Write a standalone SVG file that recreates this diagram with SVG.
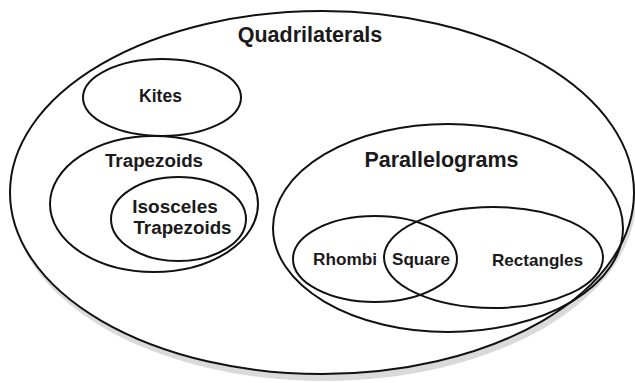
<svg xmlns="http://www.w3.org/2000/svg" width="635" height="383" viewBox="0 0 635 383">
  <style>
    .set { fill: none; stroke: #111; stroke-width: 2; }
    .lbl { font-family: "Liberation Sans", Arial, Helvetica, sans-serif; font-weight: bold; fill: #1a1a1a; text-anchor: middle; }
  </style>
  <rect width="635" height="383" fill="#ffffff"/>
  <g id="quadrilaterals">
    <ellipse cx="324" cy="199" rx="312" ry="182" fill="#dadada"/>
    <ellipse cx="322" cy="192.5" rx="312" ry="181.5" fill="#ffffff" stroke="#111" stroke-width="2"/>
    <text class="lbl" x="310" y="42" font-size="21.5">Quadrilaterals</text>
  </g>
  <g id="kites">
    <ellipse class="set" cx="162" cy="97.5" rx="79" ry="38.5"/>
    <text class="lbl" x="160.5" y="102" font-size="17.5">Kites</text>
  </g>
  <g id="trapezoids">
    <ellipse class="set" cx="154" cy="204" rx="104" ry="68"/>
    <text class="lbl" x="154" y="167" font-size="18.8">Trapezoids</text>
  </g>
  <g id="isosceles-trapezoids">
    <ellipse class="set" cx="178.5" cy="219" rx="67.5" ry="42"/>
    <text class="lbl" x="175" y="213" font-size="19">Isosceles</text>
    <text class="lbl" x="182.5" y="234" font-size="18.8">Trapezoids</text>
  </g>
  <g id="parallelograms">
    <ellipse class="set" cx="448" cy="228" rx="175" ry="104"/>
    <text class="lbl" x="441.5" y="167" font-size="21.5">Parallelograms</text>
  </g>
  <g id="rhombi">
    <ellipse class="set" cx="375" cy="259" rx="82" ry="43"/>
    <text class="lbl" x="345" y="265" font-size="17.2">Rhombi</text>
  </g>
  <g id="rectangles">
    <ellipse class="set" cx="493.5" cy="257.5" rx="109.5" ry="50.5"/>
    <text class="lbl" x="537.5" y="266" font-size="17.1">Rectangles</text>
  </g>
  <g id="square">
    <text class="lbl" x="421" y="265" font-size="17.1">Square</text>
  </g>
</svg>
